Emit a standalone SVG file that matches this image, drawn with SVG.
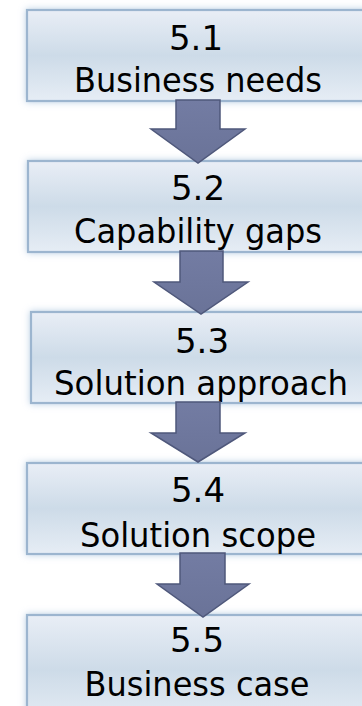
<svg xmlns="http://www.w3.org/2000/svg" width="362" height="706" viewBox="0 0 362 706">
<defs>
<linearGradient id="boxg" x1="0" y1="0" x2="0" y2="1">
<stop offset="0" stop-color="#e9eef6"/>
<stop offset="0.5" stop-color="#cddbe8"/>
<stop offset="1" stop-color="#e6edf5"/>
</linearGradient>
<linearGradient id="arrg" x1="0" y1="0" x2="0" y2="1">
<stop offset="0" stop-color="#737ca3"/>
<stop offset="1" stop-color="#6a7398"/>
</linearGradient>
<filter id="glow" x="-10%" y="-20%" width="120%" height="140%">
<feFlood flood-color="#a9c3de" flood-opacity="0.8"/>
<feComposite operator="in" in2="SourceAlpha"/>
<feGaussianBlur stdDeviation="3.5"/>
<feMerge><feMergeNode/><feMergeNode in="SourceGraphic"/></feMerge>
</filter>
</defs>
<style>
.box{fill:url(#boxg);stroke:#9cb5cf;stroke-width:2.2}
.arr{fill:url(#arrg);stroke:#4f587b;stroke-width:1.5;stroke-linejoin:miter}
text{font-family:"DejaVu Sans","Liberation Sans",sans-serif;font-size:34px;fill:#000;text-anchor:middle}
</style>
<g id="node1">
<rect class="box" x="27" y="10" width="345" height="91" filter="url(#glow)"/>
<text x="196" y="50">5.1</text>
<text x="198" y="92" textLength="248" lengthAdjust="spacingAndGlyphs">Business needs</text>
</g>
<g id="node2">
<rect class="box" x="28" y="161" width="345" height="91" filter="url(#glow)"/>
<text x="198" y="200">5.2</text>
<text x="198" y="243" textLength="248" lengthAdjust="spacingAndGlyphs">Capability gaps</text>
</g>
<g id="node3">
<rect class="box" x="31" y="312" width="345" height="91" filter="url(#glow)"/>
<text x="202" y="353">5.3</text>
<text x="201" y="395" textLength="294" lengthAdjust="spacingAndGlyphs">Solution approach</text>
</g>
<g id="node4">
<rect class="box" x="27" y="463" width="345" height="91" filter="url(#glow)"/>
<text x="198" y="502">5.4</text>
<text x="198" y="547" textLength="236" lengthAdjust="spacingAndGlyphs">Solution scope</text>
</g>
<g id="node5">
<rect class="box" x="27" y="615" width="345" height="110" filter="url(#glow)"/>
<text x="197" y="652">5.5</text>
<text x="197" y="696" textLength="225" lengthAdjust="spacingAndGlyphs">Business case</text>
</g>
<g id="connectors">
<polygon class="arr" points="176,100 220,100 220,129 245,129 198,163 151,129 176,129"/>
<polygon class="arr" points="180,251 223,251 223,282 248,282 201,314 154,282 180,282"/>
<polygon class="arr" points="176,402 220,402 220,433 245,433 198,462 151,433 176,433"/>
<polygon class="arr" points="180,553 225,553 225,584 249,584 203,617 157,584 180,584"/>
</g>
</svg>
